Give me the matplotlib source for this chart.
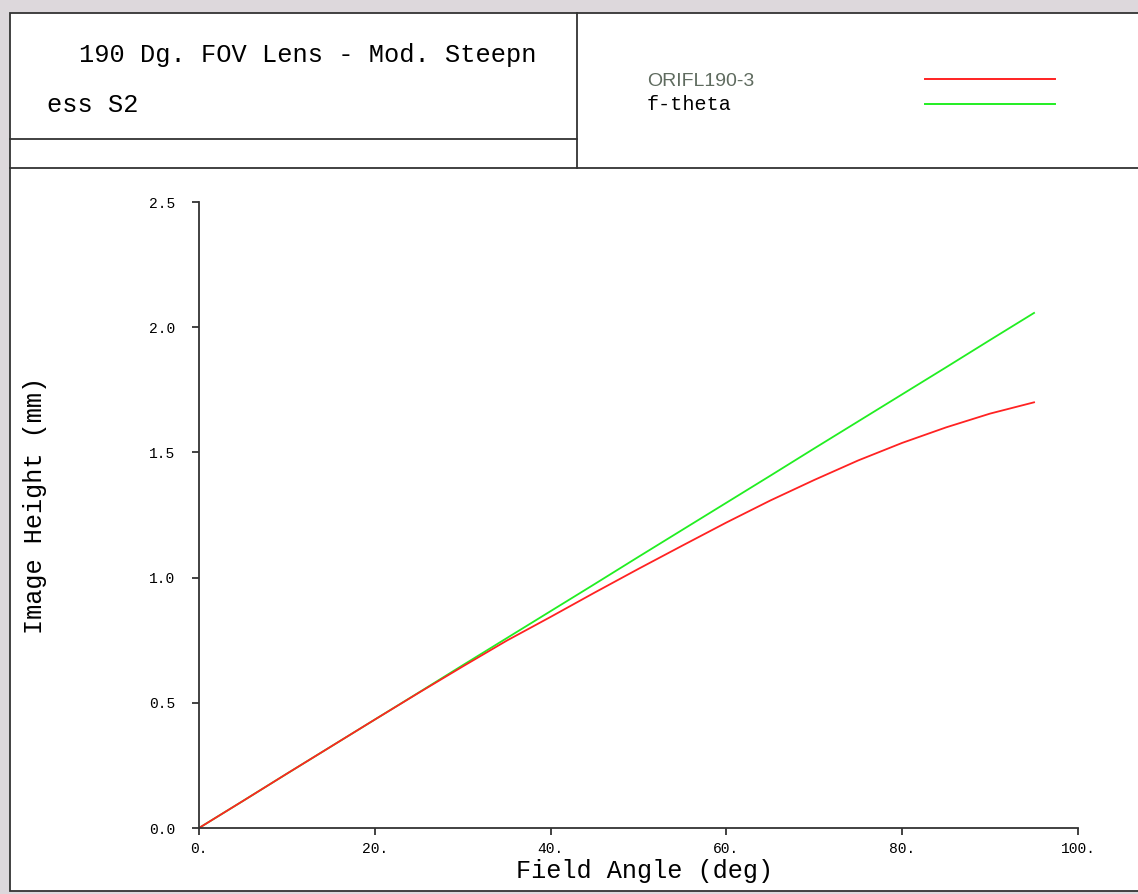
import numpy as np
import matplotlib.pyplot as plt
from matplotlib.patches import Rectangle

# Field angle (deg) and image height (mm)
angle = [0, 5, 10, 15, 20, 25, 30, 35, 40, 45, 50, 55, 60, 65, 70, 75, 80, 85, 90, 95]
orifl = [0.0, 0.108, 0.217, 0.325, 0.433, 0.540, 0.645, 0.748, 0.843, 0.940,
         1.035, 1.128, 1.220, 1.308, 1.390, 1.468, 1.538, 1.600, 1.655, 1.700]
ftheta = [0.0, 0.108, 0.217, 0.325, 0.433, 0.541, 0.650, 0.758, 0.866, 0.974,
          1.083, 1.191, 1.299, 1.407, 1.516, 1.624, 1.732, 1.840, 1.949, 2.057]

xticks = [0, 20, 40, 60, 80, 100]
xticklabels = ["0.", "20.", "40.", "60.", "80.", "100."]
yticks = [0.0, 0.5, 1.0, 1.5, 2.0, 2.5]
yticklabels = ["0.0", "0.5", "1.0", "1.5", "2.0", "2.5"]

title1 = "190 Dg. FOV Lens - Mod. Steepn"
title2 = "ess S2"
series_names = ["ORIFL190-3", "f-theta"]

W, H = 1138, 894
MONO = "Liberation Mono"
EDGE = "#333333"
RED = "#ff2222"
GREEN = "#22ee22"

fig = plt.figure(figsize=(W / 100, H / 100), dpi=100, facecolor="#ddd8dc")

# page frame drawn in pixel coordinates
bg = fig.add_axes([0, 0, 1, 1])
bg.set_xlim(0, W)
bg.set_ylim(H, 0)
bg.axis("off")
bg.add_patch(Rectangle((10, 13), W + 10, 878, facecolor="white",
                       edgecolor=EDGE, linewidth=1.3))
bg.plot([10, W], [168, 168], color=EDGE, lw=1.3)
bg.plot([577, 577], [13, 168], color=EDGE, lw=1.3)
bg.plot([10, 577], [139, 139], color=EDGE, lw=1.3)

bg.text(79, 55, title1, family=MONO, fontsize=18.3, va="center", ha="left")
bg.text(47, 105, title2, family=MONO, fontsize=18.3, va="center", ha="left")

# legend box
bg.text(647, 81, series_names[0], family="Liberation Sans", fontsize=14,
        color="#5f6b5f", va="center", ha="left")
bg.text(647, 105, series_names[1], family=MONO, fontsize=14.5,
        color="black", va="center", ha="left")
bg.plot([925, 1055], [79, 79], color=RED, lw=1.4)
bg.plot([925, 1055], [104, 104], color=GREEN, lw=1.4)

# axis titles
bg.text(35, 505, "Image Height (mm)", family=MONO, fontsize=18.2,
        rotation=90, va="center", ha="center")
bg.text(645, 871, "Field Angle (deg)", family=MONO, fontsize=18.2,
        va="center", ha="center")

# main plot
ax = fig.add_axes([199 / W, 66 / H, 879 / W, 626 / H])
ax.patch.set_alpha(0)
ax.plot(angle, ftheta, color=GREEN, lw=1.3)
ax.plot(angle, orifl, color=RED, lw=1.3)
ax.set_xlim(0, 100)
ax.set_ylim(0, 2.5)
ax.spines["top"].set_visible(False)
ax.spines["right"].set_visible(False)
for s in ["left", "bottom"]:
    ax.spines[s].set_color(EDGE)
    ax.spines[s].set_linewidth(1.3)
ax.set_xticks(xticks)
ax.set_xticklabels(xticklabels, family=MONO, fontsize=10.5)
ax.set_yticks(yticks)
ax.set_yticklabels(yticklabels, family=MONO, fontsize=10.5)
ax.tick_params(axis="x", direction="out", length=5, width=1.3, color=EDGE, pad=5)
ax.tick_params(axis="y", direction="out", length=5, width=1.3, color=EDGE, pad=12)

plt.savefig("out.png", dpi=100, facecolor=fig.get_facecolor())
